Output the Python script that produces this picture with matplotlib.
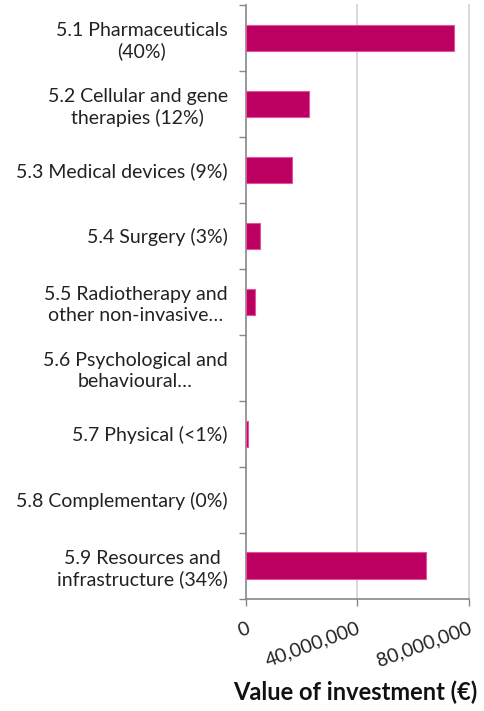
import matplotlib.pyplot as plt
import numpy as np

plt.rcParams['font.family'] = ['Lato', 'DejaVu Sans']

categories = [
    '5.1 Pharmaceuticals\n(40%)',
    '5.2 Cellular and gene\ntherapies (12%)',
    '5.3 Medical devices (9%)',
    '5.4 Surgery (3%)',
    '5.5 Radiotherapy and\nother non-invasive…',
    '5.6 Psychological and\nbehavioural…',
    '5.7 Physical (<1%)',
    '5.8 Complementary (0%)',
    '5.9 Resources and\ninfrastructure (34%)',
]
values = [74700000, 22800000, 16600000, 5000000, 3400000, 0, 700000, 0, 64600000]
xticks = [0, 40000000, 80000000]
xtick_labels = ['0', '40,000,000', '80,000,000']

fig = plt.figure(figsize=(4.85, 7.11), dpi=100)
ax = fig.add_axes([0.507, 0.158, 0.459, 0.835])

y = np.arange(len(categories))
lw = [0.8 if v > 0 else 0 for v in values]
ax.barh(y, values, height=0.4, color='#bc0062', edgecolor='#e0559a', linewidth=lw, zorder=3)

ax.set_ylim(len(categories) - 0.5, -0.5)
ax.set_xlim(0, 80000000)

ax.set_yticks(y)
ax.set_yticklabels(categories, fontsize=14, color='#222222', multialignment='center',
                   linespacing=1.25)
ax.set_yticks(np.arange(len(categories) + 1) - 0.5, minor=True)
ax.tick_params(axis='y', which='major', length=0, pad=13)
ax.tick_params(axis='y', which='minor', length=5, width=1, color='#888888', direction='out')

ax.set_xticks(xticks)
ax.set_xticklabels(xtick_labels, fontsize=14, color='#222222', rotation=20,
                   ha='right', va='top', rotation_mode='anchor')
ax.tick_params(axis='x', length=5, width=1, color='#888888', direction='out', pad=10)

# vertical gridlines, the last one sits on the axes edge so draw it unclipped
for xt in xticks[1:]:
    ax.axvline(xt, color='#d9d9d9', linewidth=1.4, zorder=0, clip_on=False)
for s in ['top', 'right']:
    ax.spines[s].set_visible(False)
for s in ['left', 'bottom']:
    ax.spines[s].set_color('#888888')
    ax.spines[s].set_linewidth(1.2)

fig.text(0.732, 0.027, 'Value of investment (€)', fontsize=17, fontweight='bold',
         color='#111111', ha='center', va='center')

plt.savefig('out.png')
